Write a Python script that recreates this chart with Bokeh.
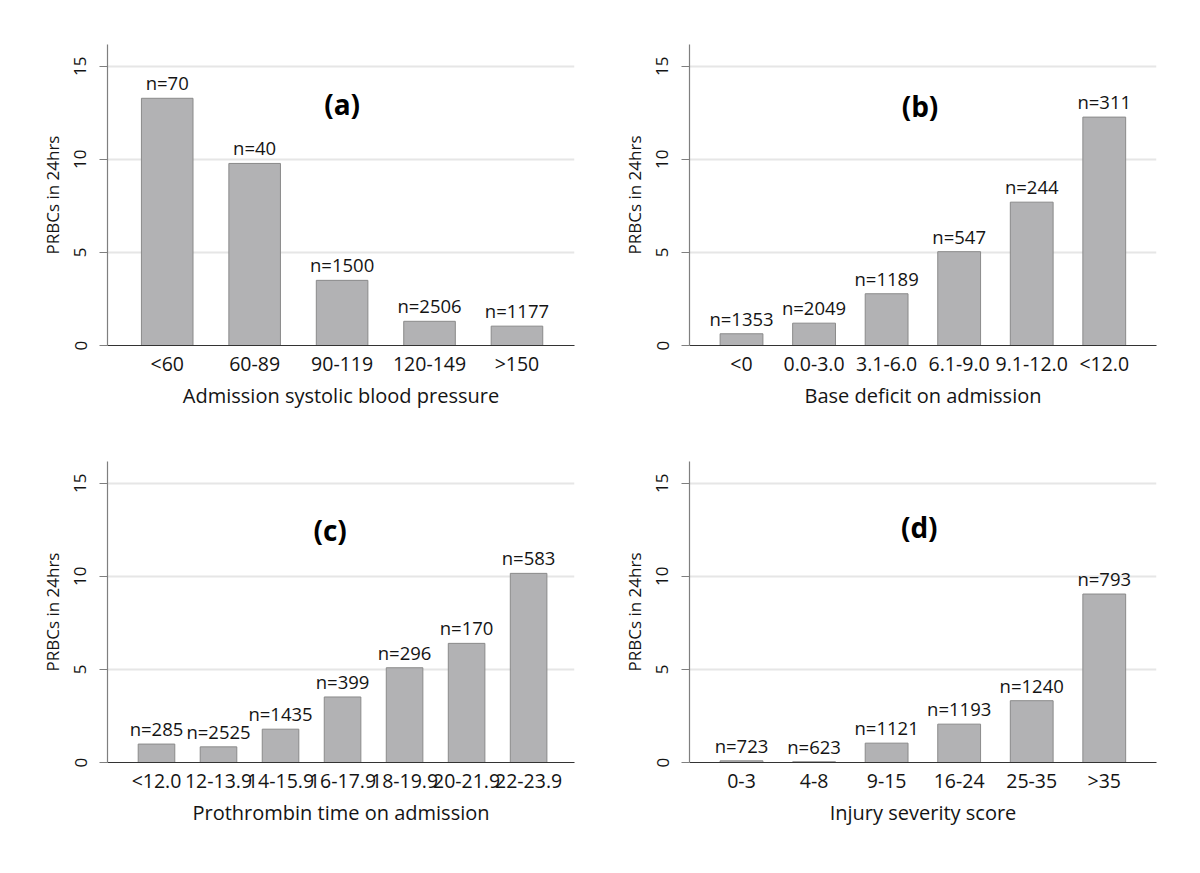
from bokeh.plotting import figure
from bokeh.models import Range1d, FixedTicker, LabelSet, Label, ColumnDataSource
from bokeh.core.properties import value
from bokeh.layouts import column, row
from bokeh.embed import file_html
from bokeh.resources import INLINE

# ---- data ----
cats_a = ["<60", "60-89", "90-119", "120-149", ">150"]
vals_a = [13.28, 9.78, 3.50, 1.30, 1.04]
n_a = [70, 40, 1500, 2506, 1177]
xlab_a = "Admission systolic blood pressure"

cats_b = ["<0", "0.0-3.0", "3.1-6.0", "6.1-9.0", "9.1-12.0", "<12.0"]
vals_b = [0.63, 1.20, 2.78, 5.04, 7.70, 12.27]
n_b = [1353, 2049, 1189, 547, 244, 311]
xlab_b = "Base deficit on admission"

cats_c = ["<12.0", "12-13.9", "14-15.9", "16-17.9", "18-19.9", "20-21.9", "22-23.9"]
vals_c = [0.99, 0.84, 1.79, 3.52, 5.09, 6.40, 10.16]
n_c = [285, 2525, 1435, 399, 296, 170, 583]
xlab_c = "Prothrombin time on admission"

cats_d = ["0-3", "4-8", "9-15", "16-24", "25-35", ">35"]
vals_d = [0.09, 0.04, 1.04, 2.06, 3.32, 9.05]
n_d = [723, 623, 1121, 1193, 1240, 793]
xlab_d = "Injury severity score"

ylab = "PRBCs in 24hrs"
yticks = [0, 5, 10, 15]

FONT = "Open Sans"
TXT = "#141414"


def panel(cats, vals, ns, xlabel, tag, pad_l, pad_r, tag_x, tag_y,
          width, height, bl, br, bt, bb):
    n = len(cats)
    p = figure(width=width, height=height, output_backend="svg",
               toolbar_location=None,
               x_range=Range1d(-pad_l, n - 1 + pad_r),
               y_range=Range1d(0, 16.17),
               min_border_left=bl, min_border_right=br,
               min_border_top=bt, min_border_bottom=bb)
    p.outline_line_color = None
    p.background_fill_color = "white"
    p.border_fill_color = "white"

    src = ColumnDataSource(dict(x=list(range(n)), top=vals,
                                lab=[f"n={v}" for v in ns]))
    p.vbar(x="x", top="top", bottom=0, width=0.59, source=src,
           fill_color="#b2b2b4", line_color="#8a8a8a", line_width=1)

    labels = LabelSet(x="x", y="top", text="lab", source=src,
                      text_align="center", text_baseline="alphabetic",
                      y_offset=8, text_font=value(FONT),
                      text_font_size=value("18.5px"),
                      text_color=value(TXT))
    p.add_layout(labels)

    p.add_layout(Label(x=tag_x, y=tag_y, text=tag, text_align="center",
                       text_baseline="middle", text_font=FONT,
                       text_font_size="28px", text_font_style="bold",
                       text_color="black"))

    # grid
    p.xgrid.grid_line_color = None
    p.ygrid.ticker = FixedTicker(ticks=[5, 10, 15])
    p.ygrid.grid_line_color = "#e6e6e6"
    p.ygrid.grid_line_width = 1.8

    # x axis
    xa = p.xaxis[0]
    xa.ticker = FixedTicker(ticks=list(range(n)))
    xa.major_label_overrides = {i: c for i, c in enumerate(cats)}
    xa.major_tick_line_color = None
    xa.minor_tick_line_color = None
    xa.axis_line_color = "#333333"
    xa.axis_line_width = 1.2
    xa.major_label_text_font = FONT
    xa.major_label_text_font_size = "19.5px"
    xa.major_label_text_color = TXT
    xa.major_label_standoff = -2
    xa.axis_label = xlabel
    xa.axis_label_text_font = FONT
    xa.axis_label_text_font_size = "20px"
    xa.axis_label_text_font_style = "normal"
    xa.axis_label_text_color = TXT
    xa.axis_label_standoff = 2

    # y axis
    ya = p.yaxis[0]
    ya.ticker = FixedTicker(ticks=yticks)
    ya.minor_tick_line_color = None
    ya.major_tick_in = 0
    ya.major_tick_out = 8
    ya.major_tick_line_color = "#7f7f7f"
    ya.axis_line_color = "#7f7f7f"
    ya.axis_line_width = 1.2
    ya.major_label_orientation = "vertical"
    ya.major_label_text_font = FONT
    ya.major_label_text_font_size = "17px"
    ya.major_label_text_color = TXT
    ya.major_label_standoff = 13
    ya.axis_label = ylab
    ya.axis_label_text_font = FONT
    ya.axis_label_text_font_size = "17px"
    ya.axis_label_text_font_style = "normal"
    ya.axis_label_text_color = TXT
    ya.axis_label_standoff = 8
    return p


pa = panel(cats_a, vals_a, n_a, xlab_a, "(a)", 0.683, 0.658, 2.0, 13.0,
           590, 420, 107, 16, 44, 75)
pb = panel(cats_b, vals_b, n_b, xlab_b, "(b)", 0.717, 0.72, 2.46, 12.85,
           590, 420, 99, 24, 44, 75)
pc = panel(cats_c, vals_c, n_c, xlab_c, "(c)", 0.79, 0.74, 2.8, 12.5,
           590, 424, 107, 16, 41, 82)
pd = panel(cats_d, vals_d, n_d, xlab_d, "(d)", 0.717, 0.72, 2.45, 12.63,
           590, 424, 99, 24, 41, 82)

layout = column(row(pa, pb), row(pc, pd))

open("out.html", "w").write(file_html(layout, INLINE))
